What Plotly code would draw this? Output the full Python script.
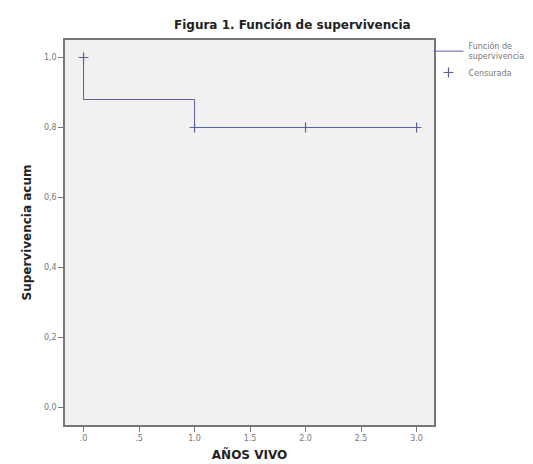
import plotly.graph_objects as go

# Data
step_x = [0, 0, 1, 3]
step_y = [1.0, 0.88, 0.80, 0.80]
cens_x = [0, 1, 2, 3]
cens_y = [1.0, 0.80, 0.80, 0.80]
x_ticks = [0, 0.5, 1, 1.5, 2, 2.5, 3]
x_ticktext = [".0", ".5", "1.0", "1.5", "2.0", "2.5", "3.0"]
y_ticks = [0, 0.2, 0.4, 0.6, 0.8, 1.0]
y_ticktext = ["0,0", "0,2", "0,4", "0,6", "0,8", "1,0"]

line_color = "#5a5f9e"

fig = go.Figure()
fig.add_trace(go.Scatter(
    x=step_x, y=step_y, mode="lines", line_shape="hv",
    line=dict(color=line_color, width=1),
    name="Función de<br>supervivencia",
))
fig.add_trace(go.Scatter(
    x=cens_x, y=cens_y, mode="markers",
    marker=dict(symbol="cross-thin-open", size=7, color=line_color,
                line=dict(color=line_color, width=1.2)),
    name="Censurada",
))

fig.update_layout(
    width=533, height=464,
    margin=dict(l=57, r=98, t=32, b=41),
    paper_bgcolor="white",
    plot_bgcolor="#f1f1f1",
    font=dict(family="DejaVu Sans", color="#555555"),
    showlegend=True,
    legend=dict(x=0.985, y=1.015, xanchor="left", yanchor="top",
                font=dict(size=8, color="#777777"), bgcolor="rgba(0,0,0,0)",
                tracegroupgap=0, itemwidth=30),
    annotations=[dict(
        text="<b>Figura 1. Función de supervivencia</b>",
        xref="paper", yref="paper", x=0.616, y=1.0,
        xanchor="center", yanchor="bottom", yshift=6, showarrow=False,
        font=dict(size=12, color="#222222", family="DejaVu Sans"),
    )],
    xaxis=dict(
        range=[-0.167, 3.157], tickvals=x_ticks, ticktext=x_ticktext,
        showgrid=False, zeroline=False, showline=True, mirror=True,
        linecolor="#777777", linewidth=1.5, ticks="outside", ticklen=5,
        tickcolor="#777777", tickfont=dict(size=8, color="#777777"),
        title=dict(text="<b>AÑOS VIVO</b>", font=dict(size=12, color="#222222"), standoff=8),
    ),
    yaxis=dict(
        range=[-0.05, 1.05], tickvals=y_ticks, ticktext=y_ticktext,
        showgrid=False, zeroline=False, showline=True, mirror=True,
        linecolor="#777777", linewidth=1.5, ticks="outside", ticklen=5,
        tickcolor="#777777", tickfont=dict(size=8, color="#777777"),
        title=dict(text="<b>Supervivencia acum</b>", font=dict(size=12, color="#222222"), standoff=10),
    ),
)

fig.write_html("out.html")
